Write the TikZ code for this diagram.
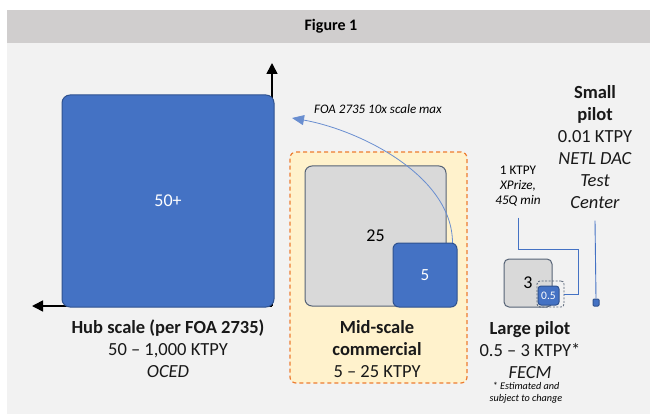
\documentclass[tikz,border=0pt]{standalone}
\usepackage{fontspec}
\setmainfont{Carlito}
\usetikzlibrary{arrows.meta,positioning}
\definecolor{OfficeBlue}{RGB}{68,114,196}
\definecolor{OfficeBlueDark}{RGB}{47,82,143}
\definecolor{SlateGray}{RGB}{86,99,118}
\definecolor{BoxGray}{RGB}{217,217,217}
\definecolor{MidOrange}{RGB}{237,125,49}
\definecolor{MidCream}{RGB}{255,242,204}
\definecolor{HeadGray}{RGB}{208,206,206}
\definecolor{BodyGray}{RGB}{242,242,242}
\newcommand{\bigsize}{\fontsize{18.5}{22}\selectfont}
\newcommand{\notesize}{\fontsize{13.2}{15}\selectfont}

\begin{document}
\begin{tikzpicture}[x=1pt,y=-1pt,
  bluebox/.style={draw=OfficeBlueDark,fill=OfficeBlue,text=white,rounded corners=#1,line width=1pt,inner sep=0pt},
  graybox/.style={draw=SlateGray,fill=BoxGray,rounded corners=#1,line width=1pt,inner sep=0pt},
  axis/.style={-{Triangle[length=11pt,width=11pt]},line width=1.6pt},
  lead/.style={OfficeBlue,line width=0.9pt},
  scalelabel/.style={align=center,font=\bigsize,text=black!90}]
\useasboundingbox (0,0) rectangle (650,414);
% page and header band
\fill[BodyGray] (7,43) rectangle (650,414);
\fill[HeadGray] (7,10) rectangle (650,43);
\node[font=\bfseries\fontsize{16}{18}\selectfont] (title) at (331,26) {Figure 1};

% axes behind the hub square
\coordinate (corner) at (272,306);
\coordinate (ytip) at (272,63);
\coordinate (xtip) at (32,306);
\draw[axis] (corner) -- (ytip);
\draw[axis] (corner) -- (xtip);

% hub scale
\node[bluebox=8pt,minimum width=212pt,minimum height=212pt,font=\fontsize{18}{20}\selectfont] (hub) at (168,201) {50+};

% mid-scale zone
\node[draw=MidOrange,fill=MidCream,dash pattern=on 4pt off 3pt,line width=1.2pt,rounded corners=6pt,
  minimum width=177pt,minimum height=231pt] (zone) at (378.5,267.5) {};
\node[graybox=7pt,minimum width=141pt,minimum height=140pt,font=\fontsize{18}{20}\selectfont] (mid) at (375.5,236) {25};
\coordinate (maxtip) at (292,118);
\draw[OfficeBlue!80,line width=0.8pt,-{Triangle[length=12pt,width=10pt]}] ([xshift=6pt]mid.south east |- 0,243) to[out=90,in=-10,looseness=0.85] (maxtip);
\node[bluebox=6pt,minimum size=64pt,font=\fontsize{17}{20}\selectfont] (five) at (425,275) {5};
\node[font=\itshape\fontsize{13}{14}\selectfont] (maxnote) at (378,109) {FOA 2735 10x scale max};

% large and small pilots
\node[graybox=5pt,minimum size=48pt,font=\fontsize{18}{20}\selectfont] (large) at (528,283) {3};
\node[draw=SlateGray,dash pattern=on 2pt off 1.5pt,line width=0.8pt,rounded corners=3pt,
  minimum width=27pt,minimum height=26pt] (range) at (550.5,294) {};
\node[bluebox=3pt,minimum width=21pt,minimum height=19pt,font=\fontsize{11.5}{12}\selectfont] (half) at (548.5,295.5) {0.5};
\node[bluebox=1pt,minimum width=6pt,minimum height=7pt] (small) at (596,302.5) {};

\node[align=center,font=\notesize] (xprize) at (518,186) {1 KTPY\\\textit{XPrize,}\\\textit{45Q min}};
\draw[lead] ([yshift=-8pt]xprize.south) |- ++(60,32) |- (range.east);
\node[scalelabel] (smalltxt) at (595,147.5) {\textbf{Small}\\\textbf{pilot}\\0.01 KTPY\\\textit{NETL DAC}\\\textit{Test}\\\textit{Center}};
\draw[lead] ([yshift=-8pt]smalltxt.south) -- (small.north);

% captions under the squares
\node[scalelabel] (hubtxt) at (168,349) {\textbf{Hub scale (per FOA 2735)}\\50 -- 1,000 KTPY\\\textit{OCED}};
\node[scalelabel] (midtxt) at (377,349) {\textbf{Mid-scale}\\\textbf{commercial}\\5 -- 25 KTPY};
\node[scalelabel] (largetxt) at (530,350) {\textbf{Large pilot}\\0.5 -- 3 KTPY*\\\textit{FECM}};
\node[align=center,font=\itshape\fontsize{10.2}{12}\selectfont] (footnote) at (526,393) {* Estimated and\\subject to change};
\end{tikzpicture}
\end{document}
